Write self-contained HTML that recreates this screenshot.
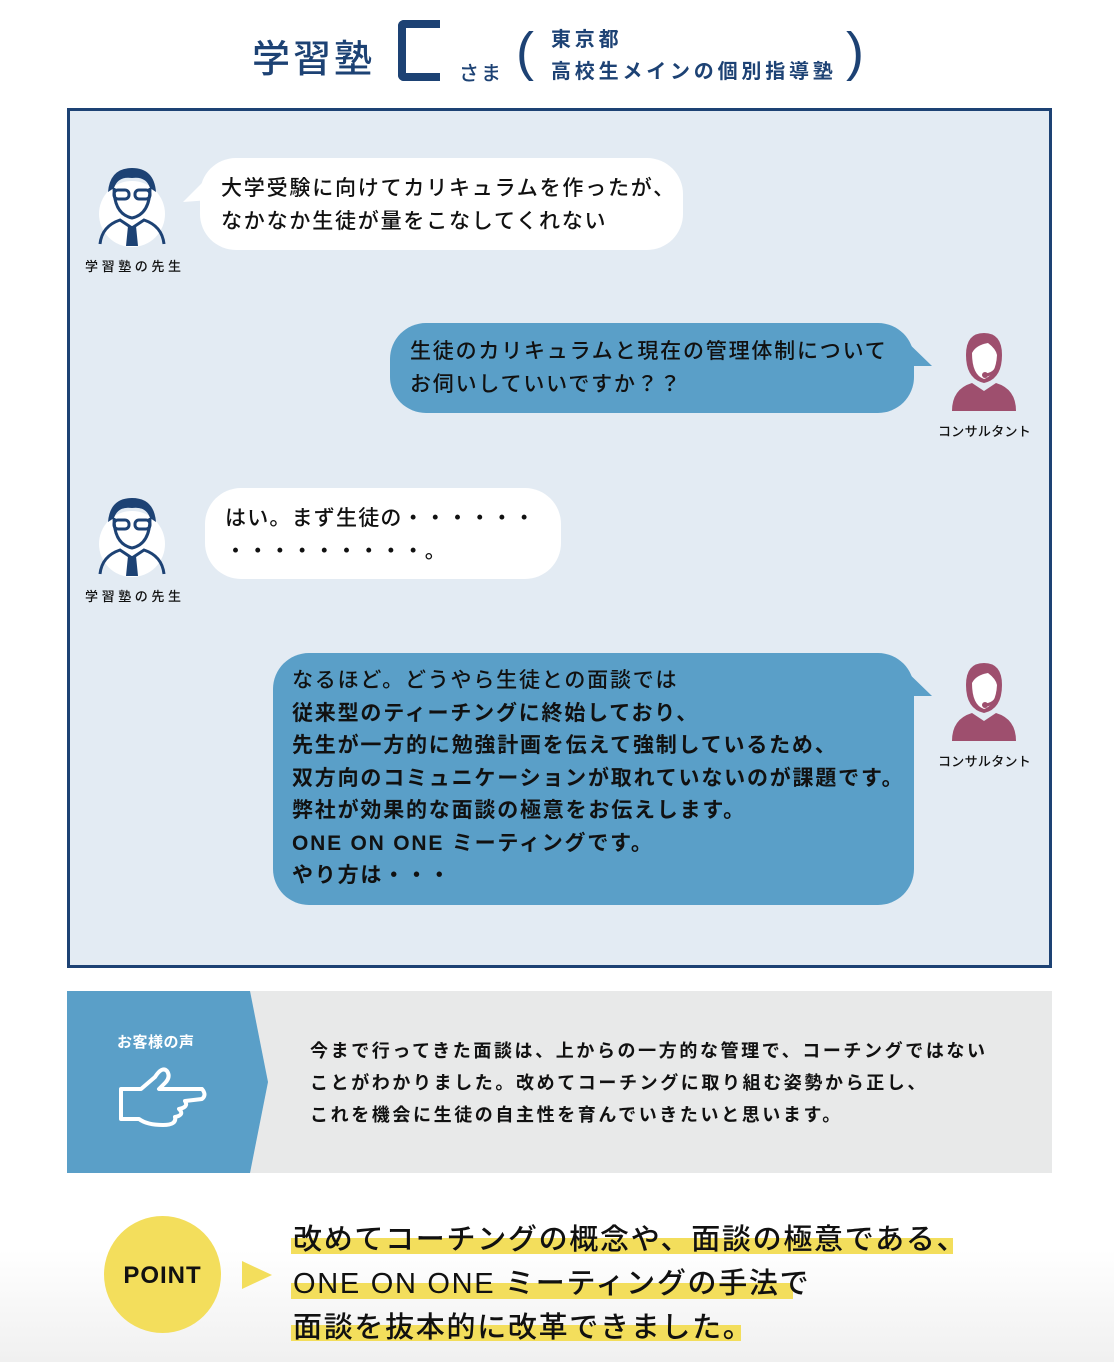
<!DOCTYPE html>
<html><head><meta charset="utf-8">
<style>
*{margin:0;padding:0;box-sizing:border-box}
body{width:1114px;height:1362px;position:relative;overflow:hidden;background:linear-gradient(#fff 0,#fff 1250px,#f0f0f0 1362px);font-family:"Liberation Sans","Noto Sans CJK JP",sans-serif;color:#111}
.a{position:absolute;white-space:nowrap}
.navy{color:#1d4274}
.box{position:absolute;left:67px;top:108px;width:985px;height:860px;border:3px solid #1d4274;background:#e3ebf3}
.t{font-size:21px;letter-spacing:1.8px;line-height:32.5px;font-weight:500}
.lab{font-size:13px;letter-spacing:3.6px;font-weight:500}
</style></head><body>
<div class="a navy" style="left:252px;top:35px;font-size:38px;letter-spacing:3px;font-weight:500;line-height:50px">学習塾</div>
<div class="a" style="left:398px;top:20px;width:42px;height:61px;border:8px solid #1d4274;border-right:none;border-radius:6px 0 0 6px"></div>
<div class="a navy" style="left:459px;top:57px;font-size:20px;letter-spacing:2px;font-weight:500">さま</div>
<div class="a navy" style="left:516px;top:12px;font-size:54px;font-weight:300;line-height:80px">(</div>
<div class="a navy" style="left:551px;top:24px;font-size:20px;letter-spacing:3.8px;font-weight:700;line-height:32px">東京都<br>高校生メインの個別指導塾</div>
<div class="a navy" style="left:846px;top:12px;font-size:54px;font-weight:300;line-height:80px">)</div>

<div class="box"></div>

<svg class="a" style="left:0;top:0" width="1114" height="980">
<defs>
<g id="teach">
<circle cx="32" cy="48" r="33" fill="#fff"/>
<path d="M8 26 Q10 2 32 2 Q54 2 56 26 L50 22 Q46 10 32 12 Q18 10 14 22Z" fill="#1d4274"/>
<path d="M14 22 Q14 48 32 52 Q50 48 50 22" fill="none" stroke="#1d4274" stroke-width="3"/>
<rect x="14" y="24" width="15" height="9" rx="4" fill="none" stroke="#1d4274" stroke-width="3"/>
<rect x="35" y="24" width="15" height="9" rx="4" fill="none" stroke="#1d4274" stroke-width="3"/>
<path d="M0 78 Q2 60 20 54 L32 62 L44 54 Q62 60 64 78" fill="none" stroke="#1d4274" stroke-width="3"/>
<path d="M28 60 L36 60 L38 80 L26 80Z" fill="#1d4274"/>
</g>
<g id="cons">
<path d="M14 24 Q14 2 32 2 Q50 2 50 24 Q50 48 32 52 Q14 48 14 24Z" fill="#9e4f6e"/>
<path d="M20 22 Q24 14 36 12 Q44 18 45 24 Q44 44 32 48 Q20 44 20 22Z" fill="#fff"/>
<path d="M0 80 Q0 58 20 52 L32 60 L44 52 Q64 58 64 80Z" fill="#9e4f6e"/>
<path d="M46 30 Q46 42 34 44" fill="none" stroke="#9e4f6e" stroke-width="3"/>
<circle cx="33" cy="44" r="3" fill="#9e4f6e"/>
</g>
</defs>
<use href="#teach" x="100" y="166"/>
<use href="#teach" x="100" y="496"/>
<use href="#cons" x="952" y="331"/>
<use href="#cons" x="952" y="661"/>
<rect x="200" y="158" width="483" height="92" rx="36" fill="#fff"/>
<path d="M205 180 L183 202 L210 200Z" fill="#fff"/>
<rect x="390" y="323" width="524" height="90" rx="36" fill="#5a9fc8"/>
<path d="M900 335 L932 366 L900 366Z" fill="#5a9fc8"/>
<rect x="205" y="488" width="356" height="91" rx="36" fill="#fff"/>
<rect x="273" y="653" width="641" height="252" rx="36" fill="#5a9fc8"/>
<path d="M900 665 L932 696 L900 696Z" fill="#5a9fc8"/>
</svg>

<div class="a t" style="left:221px;top:173px">大学受験に向けてカリキュラムを作ったが、<br>なかなか生徒が量をこなしてくれない</div>
<div class="a t" style="left:410px;top:336px">生徒のカリキュラムと現在の管理体制について<br>お伺いしていいですか？？</div>
<div class="a t" style="left:225px;top:503px;letter-spacing:1.2px">はい。まず生徒の・・・・・・<br>・・・・・・・・・。</div>
<div class="a t" style="left:292px;top:665px">なるほど。どうやら生徒との面談では<br><b>従来型のティーチングに終始しており、<br>先生が一方的に勉強計画を伝えて強制しているため、<br>双方向のコミュニケーションが取れていないのが課題です。<br>弊社が効果的な面談の極意をお伝えします。<br>ONE ON ONE ミーティングです。<br>やり方は・・・</b></div>
<div class="a lab" style="left:85px;top:256px">学習塾の先生</div>
<div class="a lab" style="left:85px;top:586px">学習塾の先生</div>
<div class="a lab" style="left:938px;top:421px;letter-spacing:0.3px">コンサルタント</div>
<div class="a lab" style="left:938px;top:751px;letter-spacing:0.3px">コンサルタント</div>

<svg class="a" style="left:67px;top:991px" width="985" height="182">
<rect width="985" height="182" fill="#e8e9e9"/>
<path d="M0 0 L183 0 L201 91 L183 182 L0 182Z" fill="#5a9fc8"/>
<path d="M88 86 Q95 75 100 80 Q104 86 98 92 L92 98 L135 98 Q140 104 135 108 L118 110 Q122 116 112 118 Q118 124 108 126 Q110 134 96 134 Q80 134 72 128 L54 128 L54 98 L74 98Z" fill="none" stroke="#fff" stroke-width="4" stroke-linejoin="round"/>
</svg>
<div class="a" style="left:117px;top:1031px;font-size:15px;font-weight:700;color:#fff;letter-spacing:0.5px">お客様の声</div>
<div class="a" style="left:310px;top:1035px;font-size:18px;letter-spacing:2.6px;font-weight:700;line-height:32px">今まで行ってきた面談は、上からの一方的な管理で、コーチングではない<br>ことがわかりました。改めてコーチングに取り組む姿勢から正し、<br>これを機会に生徒の自主性を育んでいきたいと思います。</div>

<div class="a" style="left:104px;top:1216px;width:117px;height:117px;border-radius:50%;background:#f3de5c"></div>
<div class="a" style="left:104px;top:1262px;width:117px;text-align:center;font-size:24px;font-weight:700;letter-spacing:1px">POINT</div>
<div class="a" style="left:242px;top:1261px;width:0;height:0;border-top:14px solid transparent;border-bottom:14px solid transparent;border-left:30px solid #f3de5c"></div>
<div class="a" style="left:291px;top:1238px;width:662px;height:16px;background:#f3de5c"></div>
<div class="a" style="left:291px;top:1283px;width:502px;height:16px;background:#f3de5c"></div>
<div class="a" style="left:291px;top:1325px;width:450px;height:16px;background:#f3de5c"></div>
<div class="a" style="left:293px;top:1218px;font-size:29px;letter-spacing:1.7px;font-weight:500;line-height:44px">改めてコーチングの概念や、面談の極意である、<br>ONE ON ONE ミーティングの手法で<br>面談を抜本的に改革できました。</div>
</body></html>
